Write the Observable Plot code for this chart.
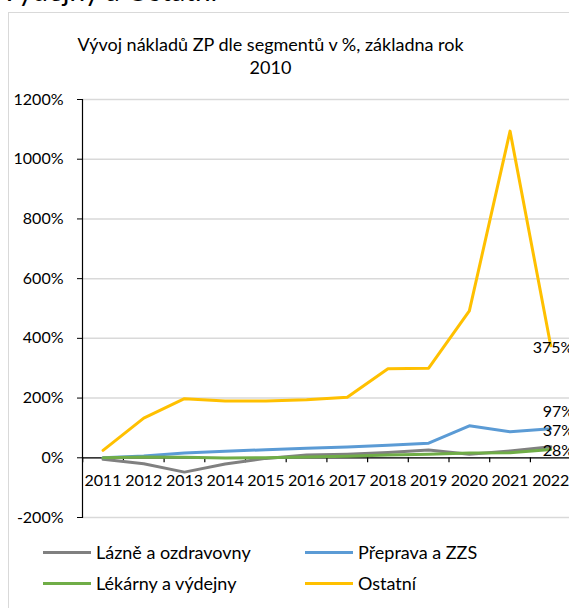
<!DOCTYPE html>
<html>
<head>
<meta charset="utf-8">
<script src="https://cdn.jsdelivr.net/npm/d3@7"></script>
<script src="https://cdn.jsdelivr.net/npm/@observablehq/plot@0.6"></script>
<style>
  html, body { margin: 0; padding: 0; background: #fff; }
  body { width: 569px; height: 608px; overflow: hidden; font-family: Lato, "Open Sans", sans-serif; }
  #wrap { position: relative; width: 569px; height: 608px; overflow: hidden; }
  #frame { position: absolute; left: 8px; top: 12px; width: 700px; height: 700px; border-left: 1.5px solid #d9d9d9; border-top: 1.5px solid #d9d9d9; }
  #heading { position: absolute; left: 0px; top: -24px; font-size: 28px; line-height: 28px; color: #000; white-space: nowrap; }
  #title { position: absolute; left: 0; top: 33px; width: 541px; text-align: center; font-size: 18px; line-height: 23px; color: #000; }
  #chart { position: absolute; left: 0; top: 0; }
  .leg { position: absolute; font-size: 18px; color: #000; white-space: nowrap; display: flex; align-items: center; }
  .sw { display: inline-block; width: 48px; height: 3px; margin-right: 5px; }
</style>
</head>
<body>
<div id="wrap">
  <div id="frame"></div>
  <div id="heading">Výdejny a Ostatní</div>
  <div id="title">Vývoj nákladů ZP dle segmentů v %, základna rok<br>2010</div>
  <div id="chart"></div>
  <div id="legend"></div>
</div>
<script>
// ---- data ----
const years = [2011, 2012, 2013, 2014, 2015, 2016, 2017, 2018, 2019, 2020, 2021, 2022];
const seriesNames = ["Lázně a ozdravovny", "Přeprava a ZZS", "Lékárny a výdejny", "Ostatní"];
const lazne    = [-5, -20, -48, -21, -2, 9, 12, 18, 26, 12, 23, 37];
const preprava = [0, 6, 16, 22, 27, 32, 36, 42, 49, 107, 87, 97];
const lekarny  = [0, 3, 2, -1, 0, 3, 5, 9, 12, 16, 17, 28];
const ostatni  = [25, 133, 198, 190, 190, 194, 203, 298, 300, 492, 1094, 375];
const yTicks = [-200, 0, 200, 400, 600, 800, 1000, 1200];
const endLabels = ["37%", "97%", "28%", "375%"];
const colors = ["#808080", "#5b9bd5", "#70ad47", "#ffc000"];

const seriesValues = [lazne, preprava, lekarny, ostatni];
const rows = seriesNames.flatMap((s, si) => years.map((yr, i) => ({series: s, year: yr, value: seriesValues[si][i]})));
const labelRows = seriesNames.map((s, si) => ({series: s, year: years[years.length - 1], value: seriesValues[si][years.length - 1], text: endLabels[si]}));
const boundaries = years.map(y => y - 0.5);

// label placement (style)
const labelDx = {"Lázně a ozdravovny": -8, "Přeprava a ZZS": -8, "Lékárny a výdejny": -8, "Ostatní": -18};
const labelDy = {"Lázně a ozdravovny": -16, "Přeprava a ZZS": -17, "Lékárny a výdejny": 1, "Ostatní": 2};

const font = "Lato, 'Open Sans', sans-serif";
const marks = [
  Plot.ruleY(yTicks, {stroke: "#d9d9d9", strokeWidth: 1.5}),
  Plot.axisY({ticks: yTicks, tickFormat: d => d + "%", tickSize: 5, tickPadding: 14, fontSize: 16, label: null, stroke: "#000", color: "#000"}),
  Plot.frame({anchor: "left", stroke: "#000", strokeWidth: 1.2}),
  Plot.ruleY([0], {stroke: "#000", strokeWidth: 1.2}),
  Plot.ruleX(boundaries, {x: d => d, y1: 0, y2: 0, insetBottom: -5, stroke: "#000", strokeWidth: 1.2}),
  Plot.text(years, {x: d => d, y: 0, text: d => String(d), dy: 23, fontSize: 16, fill: "#000"}),
];
seriesNames.forEach((s, si) => {
  marks.push(Plot.line(rows.filter(r => r.series === s), {x: "year", y: "value", stroke: colors[si], strokeWidth: 3, strokeLinejoin: "round", strokeLinecap: "round"}));
});
labelRows.forEach(r => {
  marks.push(Plot.text([r], {x: "year", y: "value", text: "text", textAnchor: "start", dx: labelDx[r.series], dy: labelDy[r.series], fontSize: 16, fill: "#000"}));
});

const chart = Plot.plot({
  width: 569,
  height: 608,
  marginTop: 99,
  marginBottom: 91,
  marginLeft: 82,
  marginRight: 0,
  style: {fontFamily: font, background: "transparent", overflow: "visible"},
  x: {type: "linear", domain: [2010.5, 2022.5], range: [82.2, 570.6], axis: null},
  y: {domain: [-200, 1200], axis: null},
  marks
});
document.getElementById("chart").appendChild(chart);

// legend (HTML)
const legend = document.getElementById("legend");
const legPos = [[43, 552], [305, 552], [43, 583], [305, 583]];
seriesNames.forEach((s, si) => {
  const d = document.createElement("div");
  d.className = "leg";
  d.style.left = legPos[si][0] + "px";
  d.style.top = (legPos[si][1] - 12) + "px";
  d.style.height = "24px";
  const sw = document.createElement("span");
  sw.className = "sw";
  sw.style.background = colors[si];
  d.appendChild(sw);
  d.appendChild(document.createTextNode(s));
  legend.appendChild(d);
});
</script>
</body>
</html>
